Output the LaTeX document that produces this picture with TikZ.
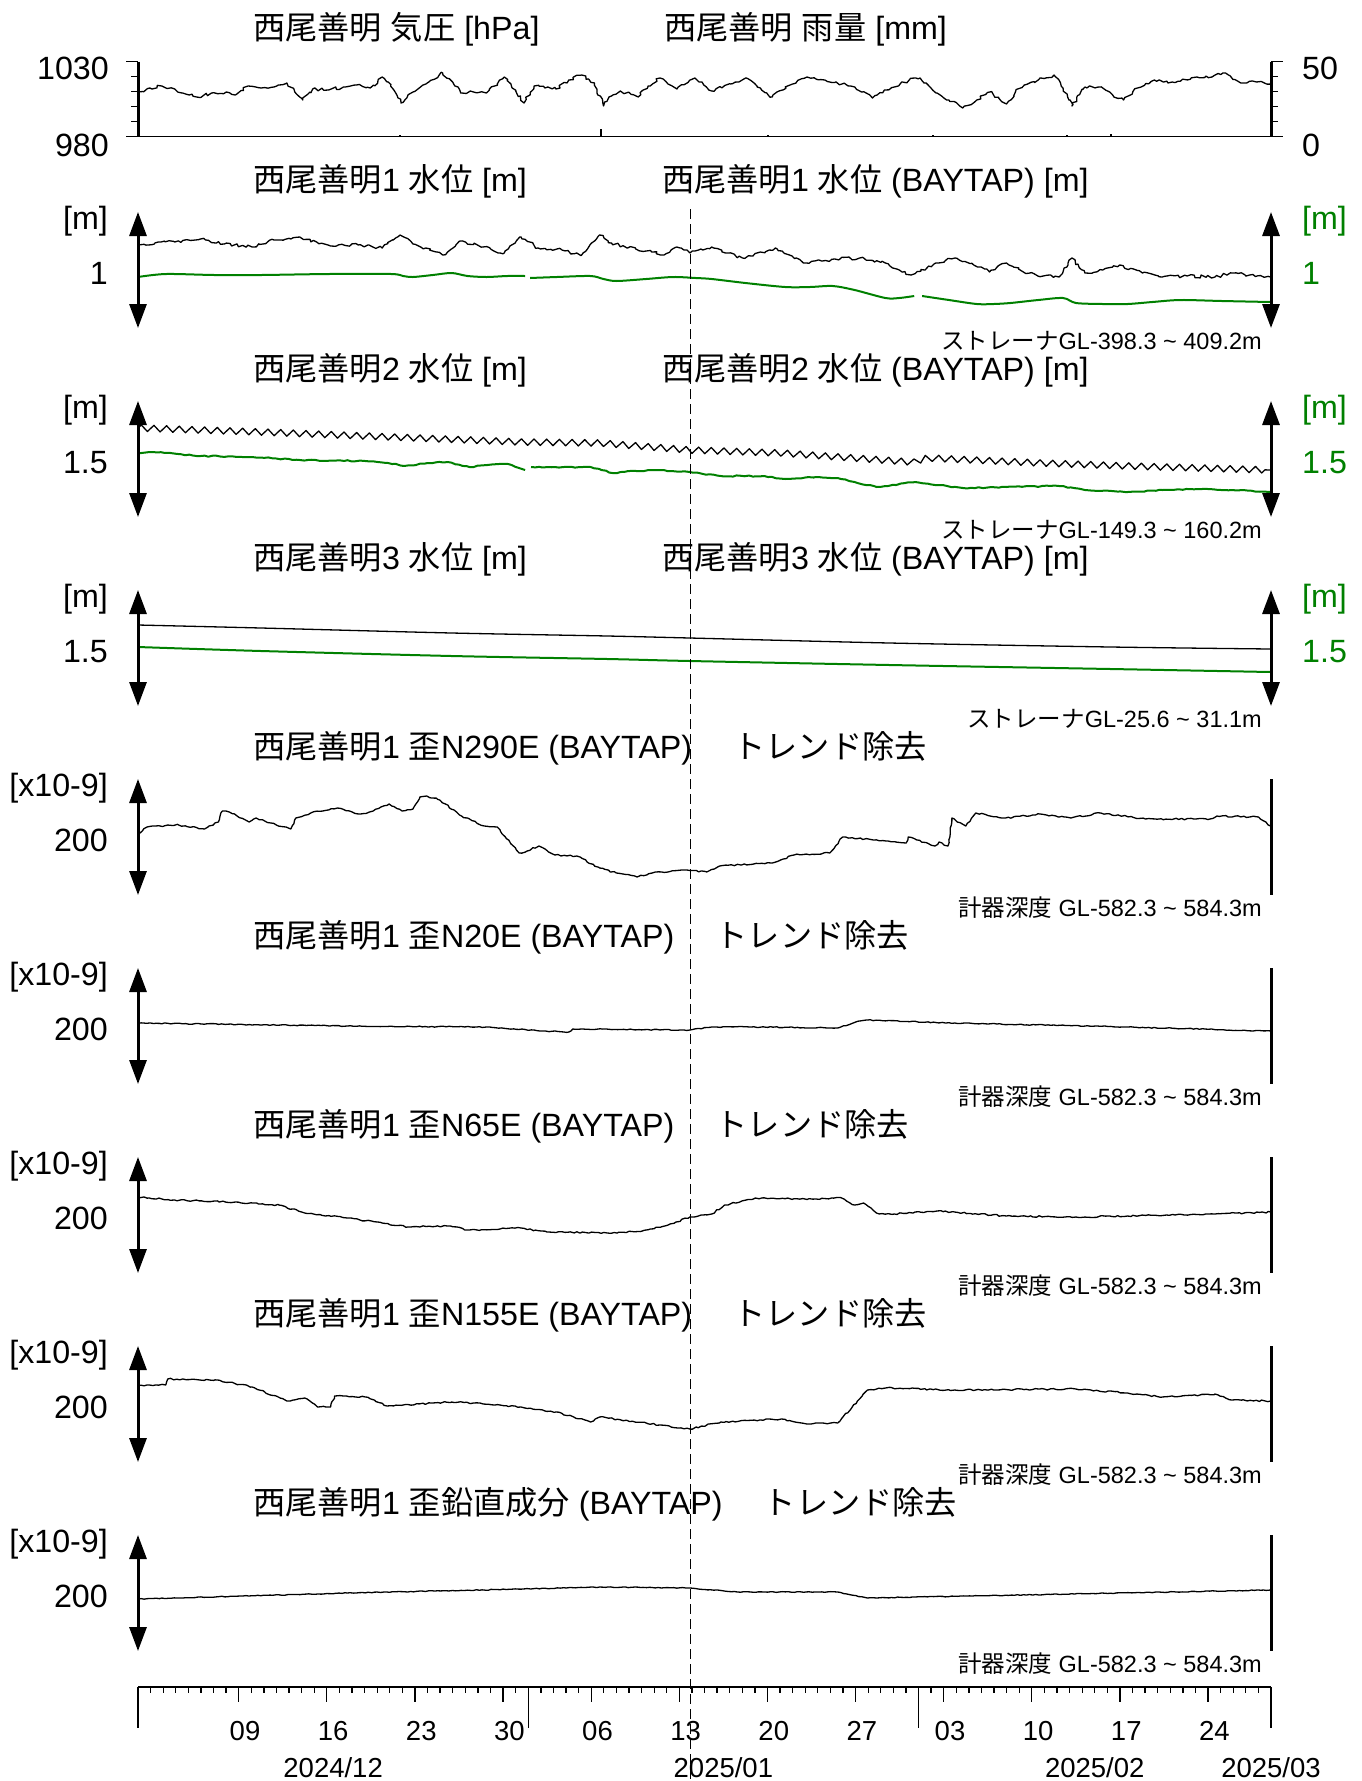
\documentclass[tikz,border=0pt]{standalone}
\usepackage{fontspec}
\setmainfont{Liberation Sans}
\newfontfamily\jpfont{Noto Sans CJK JP}
\usetikzlibrary{arrows.meta,decorations.pathmorphing,positioning}
\newcommand\J[1]{{\jpfont #1}}
\newcommand\bigsz{\fontsize{32.2}{38}\selectfont}
\newcommand\datesz{\fontsize{27.5}{32}\selectfont}
\newcommand\smallsz{\fontsize{23.5}{28}\selectfont}
\definecolor{levgreen}{RGB}{0,128,0}
\tikzset{
  lab/.style={font=\bigsz, inner sep=0pt},
  datelab/.style={font=\datesz, inner sep=0pt},
  note/.style={font=\smallsz, inner sep=0pt},
  scalearrow/.style={line width=3pt, {Triangle[length=24pt,width=17pt]}-{Triangle[length=24pt,width=17pt]}},
  data/.style={line width=1.3pt, line join=round},
  noisy/.style={data, decorate, decoration={random steps, segment length=3pt, amplitude=#1}},
  fitted/.style={line width=2pt, levgreen, line join=round},
  tick/.style={line width=1.3pt},
}

\begin{document}
\begin{tikzpicture}[x=1pt,y=-1pt]
  \useasboundingbox (0,0) rectangle (1362,1781);
  \pgfmathsetseed{17}

  % pressure / rain
  \node[lab, anchor=base west] (tp) at (253,39) {\J{西尾善明} \J{気圧} [hPa]};
  \node[lab, anchor=base west] (tr) at (664,39) {\J{西尾善明} \J{雨量} [mm]};
  \draw[line width=3pt] (138,61.7) -- (138,136.7);
  \draw[line width=3pt] (1271,61.7) -- (1271,136.7);
  \foreach \k in {1,...,4}
  {
      \draw[tick] (138,61.7+15*\k) -- ++(-7,0);
      \draw[tick] (1271,61.7+15*\k) -- ++(7,0);
  }
  \foreach \y in {61.7,136.7}
  {
      \draw[tick] (138,\y) -- ++(-12,0);
      \draw[tick] (1271,\y) -- ++(12,0);
  }
  \node[lab, anchor=base east] (p1030) at (109,79)  {1030};
  \node[lab, anchor=base east] (p980)  at (109,156) {980};
  \node[lab, anchor=base west] (r50)   at (1302,79)  {50};
  \node[lab, anchor=base west] (r0)    at (1302,156) {0};
  \draw[tick] (138,136.7) -- (1271,136.7);

  \begin{scope}[xshift=1.028pt, xscale=0.99255]
  \foreach \x/\h in {402/2, 604/8, 773/2, 939/2, 1074/2, 1118/3}
      \draw[line width=2pt] (\x,136.7) -- ++(0,-\h);
  \draw[noisy=1.6pt] (138,92) -- (150,88) -- (162,86) -- (175,89) -- (183,93) -- (197,97) -- (212,93) -- (227,92) -- (236,95) -- (249,86) -- (262,88) -- (275,87) -- (288,83) -- (296,92) -- (304,100) -- (314,89) -- (330,90) -- (345,87) -- (358,85) -- (372,88) -- (384,77) -- (390,82) -- (395,89) -- (403,103) -- (415,92) -- (428,84) -- (445,73) -- (455,82) -- (463,93) -- (476,92) -- (489,93) -- (500,84) -- (507,77) -- (515,88) -- (527,103) -- (537,86) -- (548,88) -- (559,89) -- (572,80) -- (585,75) -- (592,79) -- (598,83) -- (607,106) -- (615,96) -- (624,91) -- (642,97) -- (652,86) -- (664,78) -- (672,84) -- (681,89) -- (699,78) -- (708,85) -- (716,91) -- (735,84) -- (751,78) -- (765,88) -- (777,97) -- (795,85) -- (812,77) -- (830,80) -- (856,86) -- (867,92) -- (878,98) -- (890,90) -- (900,87) -- (915,80) -- (926,78) -- (935,86) -- (943,93) -- (955,100) -- (969,108) -- (983,100) -- (996,92) -- (1005,98) -- (1013,104) -- (1022,92) -- (1031,85) -- (1045,80) -- (1061,75) -- (1070,88) -- (1079,106) -- (1092,87) -- (1110,88) -- (1120,95) -- (1131,100) -- (1145,88) -- (1162,80) -- (1180,82) -- (1205,77) -- (1220,77) -- (1231,73) -- (1249,83) -- (1265,82) -- (1279,83);

  % well 1
  \draw[noisy=1.6pt] (138,245) -- (155,243) -- (175,242) -- (201,239) -- (225,244) -- (253,247) -- (275,240) -- (301,237) -- (318,242) -- (332,246) -- (360,245) -- (384,248) -- (395,240) -- (402,235) -- (415,244) -- (428,248) -- (445,255) -- (463,241) -- (485,247) -- (507,253) -- (518,243) -- (524,237) -- (541,248) -- (560,249) -- (585,255) -- (595,243) -- (603,235) -- (615,243) -- (629,247) -- (650,251) -- (668,255) -- (681,247) -- (694,253) -- (705,249) -- (716,247) -- (730,253) -- (747,258) -- (765,252) -- (782,249) -- (797,256) -- (812,263) -- (840,259) -- (865,258) -- (880,262) -- (891,263) -- (905,270) -- (917,275) -- (940,264) -- (961,258) -- (980,265) -- (996,272) -- (1013,263) -- (1030,272) -- (1050,276) -- (1066,277) -- (1079,258) -- (1092,273) -- (1110,270) -- (1127,265) -- (1150,273) -- (1170,277) -- (1195,276) -- (1223,277) -- (1240,273) -- (1258,275) -- (1279,277);
  \draw[fitted] plot[smooth, tension=0.5] coordinates {(138,277) (166,274) (215,275) (262,275) (330,274) (393,274) (405,276) (415,277) (435,275) (454,273) (470,276) (489,277) (510,276) (528,276)};
  \draw[fitted] plot[smooth, tension=0.5] coordinates {(533,278) (560,277) (594,276) (607,279) (620,281) (650,279) (677,277) (700,278) (716,279) (750,283) (790,287) (815,287) (838,286) (860,290) (891,298) (905,298) (920,296)};
  \draw[fitted] plot[smooth, tension=0.5] coordinates {(928,296) (955,300) (983,304) (1000,304) (1017,303) (1045,300) (1070,298) (1083,303) (1110,304) (1135,304) (1160,302) (1188,300) (1230,301) (1279,302)};

  % well 2
  \draw[data, decorate, decoration={zigzag, segment length=12.68pt, amplitude=3.2pt}] (138,428) -- (262,432) -- (393,437) -- (524,442) -- (603,443) -- (694,450) -- (786,453) -- (917,462) -- (934,458) -- (1048,463) -- (1135,466) -- (1279,470);
  \draw[fitted, decorate, decoration={random steps, segment length=4pt, amplitude=0.6pt}] (138,453) -- (153,452) -- (201,456) -- (253,457) -- (301,460) -- (367,461) -- (390,463) -- (406,466) -- (430,463) -- (450,462) -- (472,467) -- (490,465) -- (511,464) -- (528,470);
  \draw[fitted, decorate, decoration={random steps, segment length=4pt, amplitude=0.6pt}] (534,467) -- (594,467) -- (616,473) -- (640,471) -- (664,470) -- (694,472) -- (725,476) -- (769,476) -- (790,479) -- (821,477) -- (843,478) -- (860,482) -- (882,487) -- (921,482) -- (945,485) -- (969,488) -- (1013,487) -- (1066,486) -- (1092,490) -- (1135,492) -- (1170,490) -- (1205,489) -- (1240,490) -- (1279,492);

  % well 3
  \draw[data] plot[smooth] coordinates {(138,625) (262,628) (454,633) (611,636) (694,638) (895,643) (1118,647) (1279,649)};
  \draw[fitted] plot[smooth] coordinates {(138,647) (262,651) (454,656) (611,659) (694,661) (895,665) (1118,669) (1279,672)};

  % N290E
  \draw[noisy=0.8pt] (138,835) -- (147,827) -- (179,825) -- (205,829) -- (219,822) -- (223,811) -- (230,812) -- (250,822) -- (257,818) -- (272,823) -- (292,829) -- (297,818) -- (312,813) -- (339,808) -- (362,814) -- (375,811) -- (391,804) -- (404,811) -- (415,809) -- (422,797) -- (429,796) -- (442,800) -- (464,816) -- (487,826) -- (500,827) -- (522,853) -- (530,851) -- (542,846) -- (558,855) -- (580,856) -- (603,868) -- (620,873) -- (641,877) -- (656,873) -- (691,870) -- (711,872) -- (724,866) -- (777,863) -- (799,855) -- (835,853) -- (848,837) -- (879,840) -- (912,843) -- (914,837) -- (941,846) -- (945,842) -- (954,846) -- (958,818) -- (972,826) -- (982,813) -- (1012,818) -- (1047,814) -- (1078,818) -- (1108,813) -- (1153,819) -- (1218,819) -- (1225,816) -- (1267,817) -- (1279,826);
  % N20E
  \draw[noisy=0.5pt] (138,1023) -- (349,1026) -- (489,1027) -- (546,1031) -- (572,1032) -- (576,1029) -- (694,1030) -- (716,1027) -- (769,1027) -- (843,1028) -- (865,1021) -- (873,1020) -- (961,1023) -- (1135,1027) -- (1279,1031);
  % N65E
  \draw[noisy=0.8pt] (138,1197) -- (175,1200) -- (236,1202) -- (280,1205) -- (306,1213) -- (349,1218) -- (384,1223) -- (410,1227) -- (450,1226) -- (472,1230) -- (524,1228) -- (550,1232) -- (611,1233) -- (646,1231) -- (672,1225) -- (694,1217) -- (716,1214) -- (729,1205) -- (760,1198) -- (821,1199) -- (847,1198) -- (860,1205) -- (869,1203) -- (882,1213) -- (900,1214) -- (943,1211) -- (1013,1216) -- (1083,1217) -- (1135,1216) -- (1223,1214) -- (1279,1212);
  % N155E
  \draw[noisy=0.8pt] (138,1385) -- (166,1385) -- (168,1379) -- (218,1380) -- (253,1387) -- (288,1401) -- (306,1398) -- (319,1407) -- (332,1407) -- (336,1396) -- (367,1397) -- (389,1406) -- (454,1402) -- (476,1403) -- (524,1407) -- (559,1412) -- (594,1422) -- (603,1417) -- (664,1425) -- (694,1429) -- (725,1422) -- (786,1419) -- (812,1424) -- (843,1423) -- (873,1390) -- (891,1388) -- (961,1390) -- (1083,1389) -- (1135,1393) -- (1170,1397) -- (1223,1394) -- (1240,1400) -- (1279,1401);
  % vertical
  \draw[noisy=0.4pt] (138,1599) -- (349,1593) -- (611,1587) -- (694,1588) -- (742,1592) -- (843,1592) -- (873,1598) -- (1279,1590);
  \end{scope}

  % water level panels
  \foreach \T/\val/\depth [count=\i] in {180/1/{398.3 \textasciitilde{} 409.2},
                                         369/1.5/{149.3 \textasciitilde{} 160.2},
                                         558/1.5/{25.6 \textasciitilde{} 31.1}}
  {
      \node[lab, anchor=base west] (wl\i) at (253,\T+11) {\J{西尾善明}\i\ \J{水位} [m]};
      \node[lab, anchor=base west] (wb\i) at (662,\T+11) {\J{西尾善明}\i\ \J{水位} (BAYTAP) [m]};
      \draw[scalearrow] (138,\T+32) -- (138,\T+148);
      \draw[scalearrow] (1271,\T+32) -- (1271,\T+148);
      \node[lab, anchor=base east] (wu\i) at (108,\T+49)  {[m]};
      \node[lab, anchor=base east] (wv\i) at (108,\T+104) {\val};
      \node[lab, anchor=base west, text=levgreen] (bu\i) at (1302,\T+49)  {[m]};
      \node[lab, anchor=base west, text=levgreen] (bv\i) at (1302,\T+104) {\val};
      \node[note, anchor=base east] (sd\i) at (1262,\T+169) {\J{ストレーナ}GL-\depth m};
  }

  % strain panels
  \foreach \T/\comp [count=\i from 4] in {747/{\J{歪}N290E}, 936/{\J{歪}N20E}, 1125/{\J{歪}N65E},
                                          1314/{\J{歪}N155E}, 1503/{\J{歪鉛直成分}}}
  {
      \node[lab, anchor=base west] (st\i) at (253,\T+11) {\J{西尾善明}1 \comp\ (BAYTAP)};
      \node[lab, base right=41pt of st\i] (tn\i) {\J{トレンド除去}};
      \draw[scalearrow] (138,\T+32) -- (138,\T+148);
      \draw[line width=3pt] (1271,\T+32) -- (1271,\T+148);
      \node[lab, anchor=base east] (su\i) at (108,\T+49)  {[x10-9]};
      \node[lab, anchor=base east] (sv\i) at (108,\T+104) {200};
      \node[note, anchor=base east] (gd\i) at (1262,\T+169) {\J{計器深度} GL-582.3 \textasciitilde{} 584.3m};
  }

  % event line
  \draw[line width=1.2pt, dash pattern=on 10pt off 5pt] (690.5,209) -- (690.5,1781);

  % time axis
  \draw[line width=2.7pt] (138,1687) -- (1271,1687);
  \foreach \d in {0,...,90}
      \draw[tick] (138+\d*12.589,1687) -- ++(0,6);
  \foreach \d/\dd in {8/09,15/16,22/23,29/30,36/06,43/13,50/20,57/27,64/03,71/10,78/17,85/24}
  {
      \draw[tick] (138+\d*12.589,1687) -- ++(0,15);
      \node[datelab, anchor=base] (day\d) at (138+\d*12.589+6.3,1740) {\dd};
  }
  \foreach \d in {0,31,62,90}
      \draw[tick] (138+\d*12.589,1687) -- ++(0,41);
  \foreach \d/\mo [count=\m] in {15.5/{2024/12}, 46.5/{2025/01}, 76/{2025/02}, 90/{2025/03}}
      \node[datelab, anchor=base] (mon\m) at (138+\d*12.589,1777) {\mo};
\end{tikzpicture}
\end{document}
